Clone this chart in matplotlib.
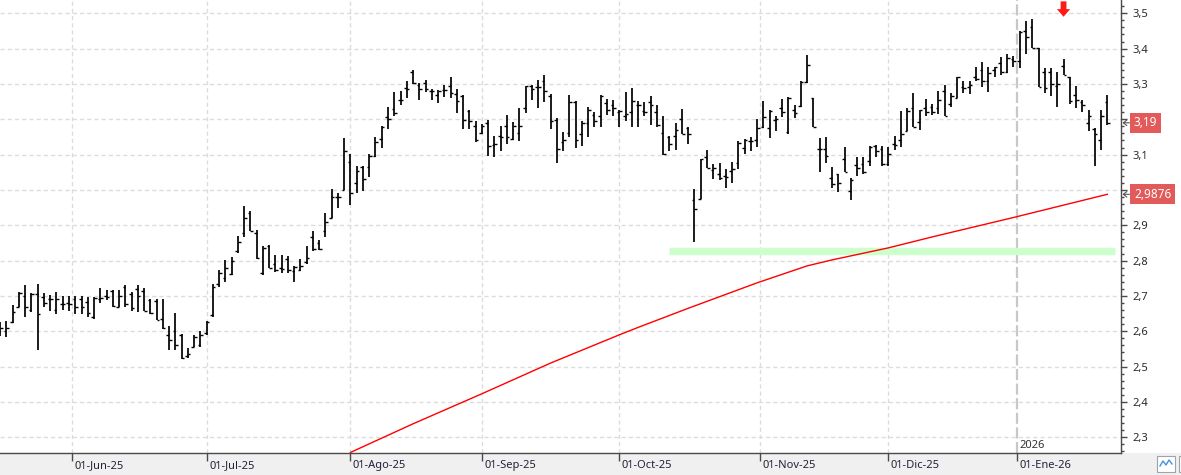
import numpy as np
import pandas as pd
import matplotlib
matplotlib.use("Agg")
import matplotlib.pyplot as plt
from matplotlib import transforms
from matplotlib.patches import Rectangle
from matplotlib.lines import Line2D
from matplotlib.ticker import MultipleLocator, FuncFormatter

plt.rcParams['font.family'] = ['Noto Sans', 'DejaVu Sans']
plt.rcParams['lines.scale_dashes'] = False

# ---------------- data ----------------
first_day = '2025-05-15'
last_day = '2026-01-22'
market_holidays = ['2025-12-25', '2025-12-26', '2026-01-01']

opens = [2.60, 2.60, 2.625, 2.67, 2.70, 2.66, 2.705, 2.696, 2.69, 2.66,
         2.677, 2.68, 2.69, 2.69, 2.684, 2.64, 2.69, 2.70, 2.715, 2.67,
         2.726, 2.705, 2.72, 2.715, 2.688, 2.686, 2.636, 2.589, 2.60, 2.588,
         2.53, 2.556, 2.56, 2.595, 2.645, 2.735, 2.75, 2.762, 2.826, 2.877,
         2.934, 2.877, 2.764, 2.84, 2.79, 2.78, 2.805, 2.77, 2.772, 2.795,
         2.866, 2.85, 2.883, 2.921, 2.979, 3.0, 3.078, 3.019, 3.065, 3.066,
         3.095, 3.145, 3.207, 3.229, 3.255, 3.288, 3.333, 3.298, 3.302, 3.28,
         3.27, 3.283, 3.295, 3.272, 3.267, 3.224, 3.182, 3.16, 3.19, 3.128,
         3.154, 3.18, 3.144, 3.16, 3.232, 3.295, 3.29, 3.307, 3.267, 3.198,
         3.135, 3.16, 3.25, 3.157, 3.189, 3.213, 3.208, 3.245, 3.24, 3.22,
         3.21, 3.22, 3.241, 3.223, 3.25, 3.22, 3.16, 3.15, 3.154, 3.20,
         3.174, 2.971, 2.974, 3.093, 3.056, 3.044, 3.04, 3.054, 3.077, 3.12,
         3.139, 3.14, 3.178, 3.174, 3.197, 3.233, 3.163, 3.225, 3.237, 3.306,
         3.259, 3.115, 3.115, 3.035, 3.044, 3.087, 2.997, 3.07, 3.072, 3.083,
         3.125, 3.116, 3.072, 3.13, 3.14, 3.166, 3.232, 3.192, 3.232, 3.234,
         3.232, 3.281, 3.243, 3.26, 3.29, 3.29, 3.321, 3.34, 3.309, 3.34,
         3.36, 3.333, 3.371, 3.366, 3.449, 3.46, 3.402, 3.333, 3.333, 3.295,
         3.352, 3.32, 3.27, 3.248, 3.19, 3.172, 3.142, 3.25]
highs = [2.627, 2.629, 2.674, 2.710, 2.731, 2.708, 2.734, 2.708, 2.703, 2.712,
         2.70, 2.70, 2.70, 2.70, 2.698, 2.696, 2.722, 2.717, 2.717, 2.718,
         2.731, 2.71, 2.731, 2.722, 2.69, 2.69, 2.69, 2.614, 2.653, 2.591,
         2.553, 2.588, 2.60, 2.63, 2.733, 2.774, 2.802, 2.811, 2.871, 2.954,
         2.94, 2.887, 2.84, 2.845, 2.817, 2.817, 2.814, 2.786, 2.805, 2.84,
         2.883, 2.858, 2.934, 3.003, 2.99, 3.147, 3.102, 3.069, 3.069, 3.102,
         3.151, 3.18, 3.234, 3.276, 3.281, 3.309, 3.34, 3.302, 3.311, 3.286,
         3.283, 3.298, 3.319, 3.286, 3.27, 3.226, 3.194, 3.187, 3.198, 3.154,
         3.182, 3.213, 3.191, 3.232, 3.295, 3.298, 3.311, 3.324, 3.272, 3.204,
         3.163, 3.27, 3.253, 3.194, 3.236, 3.22, 3.27, 3.258, 3.255, 3.225,
         3.276, 3.289, 3.251, 3.248, 3.267, 3.239, 3.21, 3.154, 3.189, 3.229,
         3.178, 3.002, 3.087, 3.112, 3.074, 3.077, 3.059, 3.08, 3.138, 3.143,
         3.15, 3.20, 3.251, 3.225, 3.209, 3.256, 3.263, 3.24, 3.308, 3.381,
         3.259, 3.146, 3.15, 3.065, 3.046, 3.122, 3.035, 3.093, 3.092, 3.125,
         3.128, 3.125, 3.121, 3.154, 3.223, 3.232, 3.274, 3.226, 3.258, 3.242,
         3.279, 3.298, 3.274, 3.321, 3.308, 3.308, 3.349, 3.361, 3.349, 3.349,
         3.377, 3.385, 3.38, 3.449, 3.479, 3.484, 3.402, 3.345, 3.345, 3.333,
         3.371, 3.321, 3.295, 3.255, 3.225, 3.175, 3.225, 3.27]
lows = [2.586, 2.584, 2.622, 2.670, 2.641, 2.655, 2.546, 2.668, 2.658, 2.65,
        2.66, 2.658, 2.65, 2.65, 2.641, 2.636, 2.679, 2.689, 2.670, 2.668,
        2.67, 2.658, 2.655, 2.657, 2.65, 2.631, 2.605, 2.546, 2.548, 2.522,
        2.525, 2.555, 2.555, 2.589, 2.641, 2.725, 2.739, 2.758, 2.821, 2.868,
        2.883, 2.805, 2.759, 2.779, 2.767, 2.766, 2.764, 2.739, 2.77, 2.79,
        2.826, 2.83, 2.868, 2.921, 2.949, 3.0, 2.958, 2.99, 2.996, 3.036,
        3.092, 3.119, 3.173, 3.21, 3.239, 3.259, 3.30, 3.255, 3.278, 3.255,
        3.245, 3.264, 3.26, 3.217, 3.173, 3.173, 3.135, 3.157, 3.097, 3.092,
        3.109, 3.13, 3.141, 3.138, 3.217, 3.255, 3.232, 3.248, 3.173, 3.075,
        3.109, 3.149, 3.119, 3.123, 3.149, 3.179, 3.177, 3.213, 3.208, 3.177,
        3.196, 3.179, 3.179, 3.208, 3.185, 3.179, 3.10, 3.111, 3.113, 3.158,
        3.129, 2.854, 2.974, 3.061, 3.03, 3.027, 3.005, 3.021, 3.058, 3.103,
        3.11, 3.121, 3.174, 3.146, 3.167, 3.206, 3.159, 3.204, 3.234, 3.303,
        3.178, 3.052, 3.077, 3.005, 2.995, 3.052, 2.971, 3.04, 3.045, 3.069,
        3.092, 3.069, 3.069, 3.113, 3.121, 3.166, 3.177, 3.17, 3.208, 3.213,
        3.215, 3.208, 3.236, 3.26, 3.274, 3.272, 3.308, 3.292, 3.276, 3.321,
        3.326, 3.33, 3.347, 3.345, 3.385, 3.402, 3.29, 3.274, 3.267, 3.236,
        3.326, 3.243, 3.232, 3.22, 3.166, 3.069, 3.113, 3.185]
closes = [2.61, 2.61, 2.655, 2.708, 2.67, 2.705, 2.65, 2.681, 2.69, 2.69,
          2.677, 2.678, 2.67, 2.67, 2.652, 2.695, 2.693, 2.698, 2.672, 2.70,
          2.677, 2.665, 2.70, 2.657, 2.652, 2.633, 2.61, 2.576, 2.562, 2.525,
          2.536, 2.585, 2.59, 2.625, 2.725, 2.765, 2.78, 2.80, 2.854, 2.921,
          2.885, 2.807, 2.836, 2.779, 2.774, 2.776, 2.772, 2.783, 2.785, 2.807,
          2.833, 2.833, 2.908, 2.981, 2.98, 3.109, 2.99, 3.055, 3.03, 3.095,
          3.135, 3.177, 3.20, 3.217, 3.255, 3.286, 3.302, 3.286, 3.286, 3.28,
          3.28, 3.283, 3.274, 3.253, 3.198, 3.194, 3.14, 3.18, 3.125, 3.13,
          3.15, 3.15, 3.18, 3.182, 3.295, 3.285, 3.29, 3.28, 3.194, 3.116,
          3.14, 3.25, 3.14, 3.19, 3.225, 3.194, 3.265, 3.225, 3.232, 3.223,
          3.215, 3.253, 3.239, 3.22, 3.239, 3.185, 3.102, 3.13, 3.17, 3.158,
          3.159, 2.946, 3.087, 3.061, 3.062, 3.033, 3.037, 3.06, 3.134, 3.14,
          3.139, 3.174, 3.206, 3.223, 3.20, 3.22, 3.26, 3.218, 3.306, 3.355,
          3.178, 3.115, 3.096, 3.016, 3.02, 3.052, 3.027, 3.063, 3.05, 3.121,
          3.111, 3.072, 3.102, 3.128, 3.157, 3.223, 3.177, 3.225, 3.22, 3.22,
          3.255, 3.21, 3.267, 3.319, 3.289, 3.298, 3.315, 3.309, 3.33, 3.349,
          3.333, 3.374, 3.366, 3.446, 3.434, 3.402, 3.292, 3.289, 3.30, 3.30,
          3.326, 3.253, 3.255, 3.239, 3.21, 3.158, 3.208, 3.19]

# moving average line (read at selected sessions)
ma_dates = ['2025-08-01', '2025-08-15', '2025-09-01', '2025-09-16', '2025-10-01',
            '2025-10-06', '2025-10-16', '2025-10-31', '2025-11-12', '2025-11-18',
            '2025-12-01', '2025-12-10', '2025-12-31', '2026-01-22']
ma_values = [2.257, 2.338, 2.423, 2.510, 2.590,
             2.611, 2.665, 2.737, 2.785, 2.802,
             2.836, 2.867, 2.922, 2.9876]

support_level = 2.828
support_start = '2025-10-13'
signal_dates = ['2026-01-13']

month_labels = ['01-Jun-25', '01-Jul-25', '01-Ago-25', '01-Sep-25',
                '01-Oct-25', '01-Nov-25', '01-Dic-25', '01-Ene-26']
year_label = '2026'

# ---------------- helpers ----------------
dates = pd.bdate_range(first_day, last_day, freq='C', holidays=market_holidays)
xs = np.arange(len(dates))


def date_pos(d):
    d = pd.Timestamp(d)
    n = int(np.searchsorted(dates.values, d.to_datetime64()))
    if n < len(dates) and dates[n] == d:
        return float(n)
    return n - 0.5


month_starts = pd.date_range('2025-06-01', '2026-01-01', freq='MS')
tick_pos = [date_pos(d) for d in month_starts]


def comma(v, nd):
    return f"{v:.{nd}f}".replace('.', ',')


badges = [(closes[-1], 2), (ma_values[-1], 4)]
badge_vals = [b[0] for b in badges]


def ytick_fmt(v, p):
    # labels hidden behind the value badges are not shown
    if any(abs(v - b) < 0.035 for b in badge_vals):
        return ''
    return comma(v, 1)


# ---------------- figure ----------------
W, H = 1181, 475
fig = plt.figure(figsize=(W / 100, H / 100), dpi=100)
fig.patch.set_facecolor('white')
fig.add_artist(Rectangle((0, 0), 1, 22 / H, transform=fig.transFigure,
                         facecolor='#f0f0f0', edgecolor='none', zorder=0))

ax = fig.add_axes([0, 22 / H, 1121 / W, 453 / H])
ax.set_facecolor('white')
px_per_bar = 6.255
ax.set_xlim(-0.03, -0.03 + 1121 / px_per_bar)
ax.set_ylim(2.2554, 3.5376)

for s in ['left', 'top']:
    ax.spines[s].set_visible(False)
for s in ['right', 'bottom']:
    ax.spines[s].set_color('#4a4a4a')
    ax.spines[s].set_linewidth(1.0)

# grid
for yv in np.arange(2.3, 3.55, 0.1):
    ax.axhline(yv, color='#dcdcdc', lw=1.0, ls=(0, (3.0, 2.2)), zorder=0)
for p in tick_pos[:-1]:
    ax.axvline(p, color='#dcdcdc', lw=1.0, ls=(0, (3.0, 2.2)), zorder=0)
ax.axvline(tick_pos[-1], color='#c8c8c8', lw=1.6, ls=(0, (8, 2.5)), zorder=0)

# support band
sx = date_pos(support_start)
ax.hlines(support_level, sx, xs[-1] + 1.2, color='#ccffcc', lw=5.3, zorder=1,
          capstyle='butt')

# moving average
ma_x = [date_pos(d) for d in ma_dates]
ax.plot(ma_x, ma_values, color='#ff0000', lw=1.0, zorder=2)

# OHLC bars
o = np.array(opens); h = np.array(highs); l = np.array(lows); c = np.array(closes)
ax.vlines(xs, l, h, color='black', lw=1.25, zorder=3)
tk = 0.42
ax.hlines(o, xs - tk, xs, color='black', lw=1.0, zorder=3)
ax.hlines(c, xs, xs + tk, color='black', lw=1.0, zorder=3)

# signal arrow
for d in signal_dates:
    sxp = date_pos(d)
    ax.annotate('', xy=(sxp, 0.963), xycoords=('data', 'axes fraction'),
                xytext=(sxp, 0.997), textcoords=('data', 'axes fraction'),
                arrowprops=dict(arrowstyle='simple,head_length=0.55,head_width=0.95,tail_width=0.42',
                                color='#ff1a1a', lw=0, shrinkA=0, shrinkB=0,
                                mutation_scale=10))

# y axis on right
ax.yaxis.set_ticks_position('right')
ax.yaxis.set_major_locator(MultipleLocator(0.1))
ax.yaxis.set_minor_locator(MultipleLocator(0.02))
ax.yaxis.set_major_formatter(FuncFormatter(ytick_fmt))
ax.tick_params(axis='y', which='major', direction='out', length=4.2, width=1.0,
               color='#4a4a4a', pad=4, labelsize=8, labelcolor='#2a2a2a')
ax.tick_params(axis='y', which='minor', direction='out', length=2.5, width=1.0,
               color='#4a4a4a')

# x axis ticks & labels
ax.set_xticks(tick_pos)
ax.set_xticklabels([])
ax.tick_params(axis='x', which='major', direction='out', length=5.4, width=1.0,
               color='#4a4a4a')
blend = transforms.blended_transform_factory(ax.transData, ax.transAxes)
lab_tr = transforms.offset_copy(blend, fig=fig, x=2.5, y=-7.0, units='dots')
for p, lab in zip(tick_pos, month_labels):
    ax.text(p, 0, lab, transform=lab_tr, ha='left', va='top', fontsize=8,
            color='#22223a', clip_on=False)

# year label next to the year divider
yr_tr = transforms.offset_copy(blend, fig=fig, x=2.5, y=1.5, units='dots')
ax.text(tick_pos[-1], 0, year_label, transform=yr_tr, ha='left', va='bottom',
        fontsize=8, color='#333333')

# price badges on the right axis
rblend = transforms.blended_transform_factory(ax.transAxes, ax.transData)
for val, nd in badges:
    ax.text(1134.0 / 1121, val, comma(val, nd), transform=rblend, ha='left',
            va='center', fontsize=8.5, color='white', clip_on=False, zorder=5,
            bbox=dict(boxstyle='square,pad=0.3', fc='#e25a5a', ec='none'))
    ax.annotate('', xy=(1122.5 / 1121, val), xycoords=rblend,
                xytext=(1129.5 / 1121, val), textcoords=rblend,
                arrowprops=dict(arrowstyle='->,head_length=0.25,head_width=0.2',
                                color='#555555', lw=0.8, shrinkA=0, shrinkB=0))

# small icon bottom-right
fig.add_artist(Rectangle((1157 / W, 3 / H), 18 / W, 16 / H, transform=fig.transFigure,
                         facecolor='white', edgecolor='#9aa4b0', lw=0.8))
fig.add_artist(Line2D([1160 / W, 1163 / W, 1166 / W, 1169 / W, 1172 / W],
                      [9 / H, 14 / H, 10 / H, 15 / H, 11 / H],
                      transform=fig.transFigure, color='#4a90d9', lw=1.0))
fig.add_artist(Rectangle((1179 / W, 3 / H), 4 / W, 16 / H, transform=fig.transFigure,
                         facecolor='white', edgecolor='#9aa4b0', lw=0.8))

fig.savefig('out.png', dpi=100)
